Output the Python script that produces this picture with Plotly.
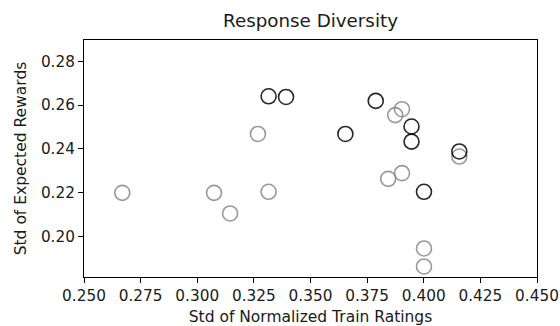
import plotly.graph_objects as go

# Baseline models (gray outline)
gray_x = [0.2669, 0.3074, 0.3145, 0.3315, 0.3268, 0.3874, 0.3904, 0.4157, 0.3843, 0.3904, 0.4001, 0.4001]
gray_y = [0.2199, 0.2199, 0.2105, 0.2204, 0.2468, 0.2554, 0.2581, 0.2365, 0.2263, 0.2289, 0.1945, 0.1863]

# Proposed models (black outline)
black_x = [0.3315, 0.3392, 0.3654, 0.3788, 0.3946, 0.3946, 0.4157, 0.4001]
black_y = [0.2640, 0.2637, 0.2468, 0.2619, 0.2502, 0.2433, 0.2388, 0.2204]

x_ticks = [0.250, 0.275, 0.300, 0.325, 0.350, 0.375, 0.400, 0.425, 0.450]
y_ticks = [0.20, 0.22, 0.24, 0.26, 0.28]

FONT = "DejaVu Sans"
TXT = "#1a1a1a"

fig = go.Figure()
fig.add_trace(go.Scatter(
    x=gray_x, y=gray_y, mode="markers",
    marker=dict(symbol="circle-open", size=15, color="rgba(128,128,128,0.8)",
                line=dict(width=1.6)),
    showlegend=False,
))
fig.add_trace(go.Scatter(
    x=black_x, y=black_y, mode="markers",
    marker=dict(symbol="circle-open", size=15, color="rgba(0,0,0,0.85)",
                line=dict(width=1.6)),
    showlegend=False,
))

axis_common = dict(
    showgrid=False, zeroline=False, automargin=False,
    showline=True, linecolor="black", linewidth=1, mirror=True,
    ticks="outside", ticklen=5, tickwidth=1, tickcolor="black",
    tickfont=dict(family=FONT, size=15.3, color=TXT),
)

fig.update_layout(
    width=560, height=326,
    margin=dict(l=84, r=23, t=40, b=49),
    paper_bgcolor="white", plot_bgcolor="white",
    font=dict(family=FONT, size=15.3, color=TXT),
    title=dict(text="Response Diversity", x=(84 + 537) / 2 / 560, xanchor="center",
               y=1 - 21 / 326, yanchor="middle", yref="container",
               font=dict(family=FONT, size=18.3, color=TXT)),
    xaxis=dict(
        range=[0.25, 0.45], tickvals=x_ticks,
        ticktext=[f"{v:.3f}" for v in x_ticks],
        title=dict(text="Std of Normalized Train Ratings", standoff=9,
                   font=dict(family=FONT, size=15.5, color=TXT)),
        **axis_common,
    ),
    yaxis=dict(
        range=[0.18148, 0.2897], tickvals=y_ticks,
        ticktext=[f"{v:.2f}" for v in y_ticks],
        title=dict(text="Std of Expected Rewards", standoff=10,
                   font=dict(family=FONT, size=15.5, color=TXT)),
        **axis_common,
    ),
)

fig.write_html("out.html")
